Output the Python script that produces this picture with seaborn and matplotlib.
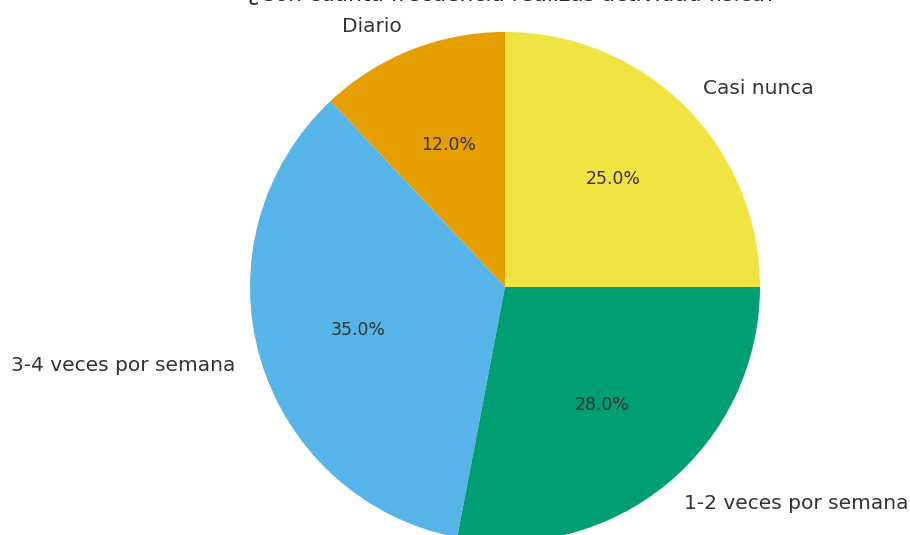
import seaborn as sns
import matplotlib.pyplot as plt

# data (counter-clockwise from 12 o'clock)
categorias = ["Diario", "3-4 veces por semana", "1-2 veces por semana", "Casi nunca"]
porcentajes = [12, 35, 28, 25]
colores = ["#E69F00", "#56B4E9", "#009E73", "#F0E442"]
titulo = "¿Con cuánta frecuencia realizas actividad física?"

sns.set_theme(style="white")
plt.rcParams["font.family"] = ["DejaVu Sans"]

fig = plt.figure(figsize=(9.1, 5.35), dpi=100)
# axes placed so the pie sits like in the reference (bottom slightly clipped)
ax = fig.add_axes([0.2047, -0.1322, 0.7005, 1.1916])

wedges, texts, autotexts = ax.pie(
    porcentajes,
    labels=categorias,
    colors=colores,
    autopct="%1.1f%%",
    startangle=90,
    wedgeprops={"linewidth": 0},
    textprops={"color": "0.2", "fontsize": 14.5},
)
for t in autotexts:
    t.set_fontsize(12.4)
    t.set_color("0.2")

ax.set_xlim(-1.25, 1.25)
ax.set_ylim(-1.25, 1.25)
ax.set_aspect("auto")
ax.axis("off")

# title sits mostly above the canvas, as in the reference
fig.text(512 / 910, 1 - 1.1 / 535, titulo, ha="center", va="baseline",
         fontsize=15.7, color="0.15")

fig.savefig("out.png", dpi=100)
